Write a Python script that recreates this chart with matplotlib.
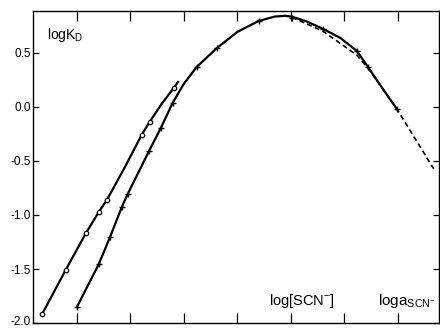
import matplotlib.pyplot as plt
import matplotlib.transforms as mtransforms

plt.rcParams['font.family'] = ['Liberation Sans', 'DejaVu Sans']
plt.rcParams['mathtext.fontset'] = 'custom'
plt.rcParams['mathtext.rm'] = 'Liberation Sans'
plt.rcParams['mathtext.it'] = 'Liberation Sans'

# circles: log KD vs log[SCN-] (abscissa in tick units)
circle_x = [-0.65, -0.21, 0.17, 0.41, 0.56, 1.21, 1.36, 1.81]
circle_y = [-1.917, -1.509, -1.167, -0.972, -0.861, -0.259, -0.139, 0.176]
# line drawn through the circles, ending a little past the last one
circle_line_x = [-0.65, -0.21, 0.17, 0.41, 0.56, 0.90, 1.21, 1.36, 1.58, 1.81, 1.89]
circle_line_y = [-1.917, -1.509, -1.167, -0.972, -0.861, -0.555, -0.259, -0.139,
                 0.025, 0.176, 0.231]

# crosses: log KD vs log a_SCN-
cross_x = [0.0, 0.41, 0.62, 0.84, 0.95, 1.35, 1.57, 1.79, 2.24, 2.62, 3.40, 4.02,
           4.60, 5.23, 5.44, 5.98]
cross_y = [-1.852, -1.454, -1.204, -0.926, -0.806, -0.407, -0.194, 0.037, 0.370,
           0.546, 0.796, 0.824, 0.722, 0.519, 0.370, -0.019]

# solid curve through the crosses
solid_x = [0.0, 0.41, 0.62, 0.84, 0.95, 1.35, 1.57, 1.79, 2.0, 2.24, 2.62, 3.0, 3.40,
           3.70, 3.89, 4.02, 4.30, 4.60, 4.92, 5.23, 5.44, 5.70, 5.98]
solid_y = [-1.852, -1.454, -1.204, -0.926, -0.806, -0.407, -0.194, 0.037, 0.215, 0.370,
           0.546, 0.694, 0.796, 0.836, 0.843, 0.835, 0.790, 0.722, 0.639, 0.519, 0.370,
           0.180, -0.019]

# dashed extension
dash_x = [4.02, 4.60, 5.23, 5.44, 5.98, 6.67]
dash_y = [0.830, 0.700, 0.480, 0.360, -0.019, -0.574]

x_ticks = [0, 1, 2, 3, 4, 5, 6]
y_ticks = [0.5, 0.0, -0.5, -1.0, -1.5, -2.0]
y_labels = ["0.5", "0.0", "-0.5", "-1.0", "-1.5", "-2.0"]

fig = plt.figure(figsize=(4.4, 3.28), dpi=100)
ax = fig.add_axes([0.075, 0.015, 0.923, 0.952])

ax.plot(circle_line_x, circle_line_y, color="black", lw=1.6)
ax.plot(circle_x, circle_y, "o", ms=3.2, mfc="white", mec="black", mew=0.9)

ax.plot(solid_x, solid_y, color="black", lw=1.6)
ax.plot(dash_x, dash_y, color="black", lw=1.2, ls=(0, (3, 2)))
ax.plot(cross_x, cross_y, "+", ms=4.5, color="black", mew=1.0)

ax.set_xlim(-0.82, 6.77)
ax.set_ylim(-2.0, 0.889)
ax.set_xticks(x_ticks)
ax.set_xticklabels([])
ax.set_yticks(y_ticks)
ax.set_yticklabels(y_labels, fontsize=8.5)
ax.tick_params(axis="x", direction="in", length=7, width=0.9, top=True, bottom=True)
ax.tick_params(axis="y", direction="in", length=4.5, width=0.9, left=True, right=True, pad=1.5)
for s in ax.spines.values():
    s.set_linewidth(1.0)

# lift the bottom tick label a little so it stays inside the picture
lbl = ax.get_yticklabels()[-1]
lbl.set_transform(lbl.get_transform() + mtransforms.ScaledTranslation(0, 2 / 72, fig.dpi_scale_trans))

ax.text(-0.55, 0.63, r"log$\mathregular{K_D}$", fontsize=10, va="baseline")
ax.text(4.2, -1.83, r"log[SCN$\mathregular{^{-}}$]", fontsize=10.5, va="baseline", ha="center")
ax.text(6.17, -1.83, r"log$\mathregular{a_{SCN^{-}}}$", fontsize=11, va="baseline", ha="center")

fig.savefig("out.png", dpi=100)
